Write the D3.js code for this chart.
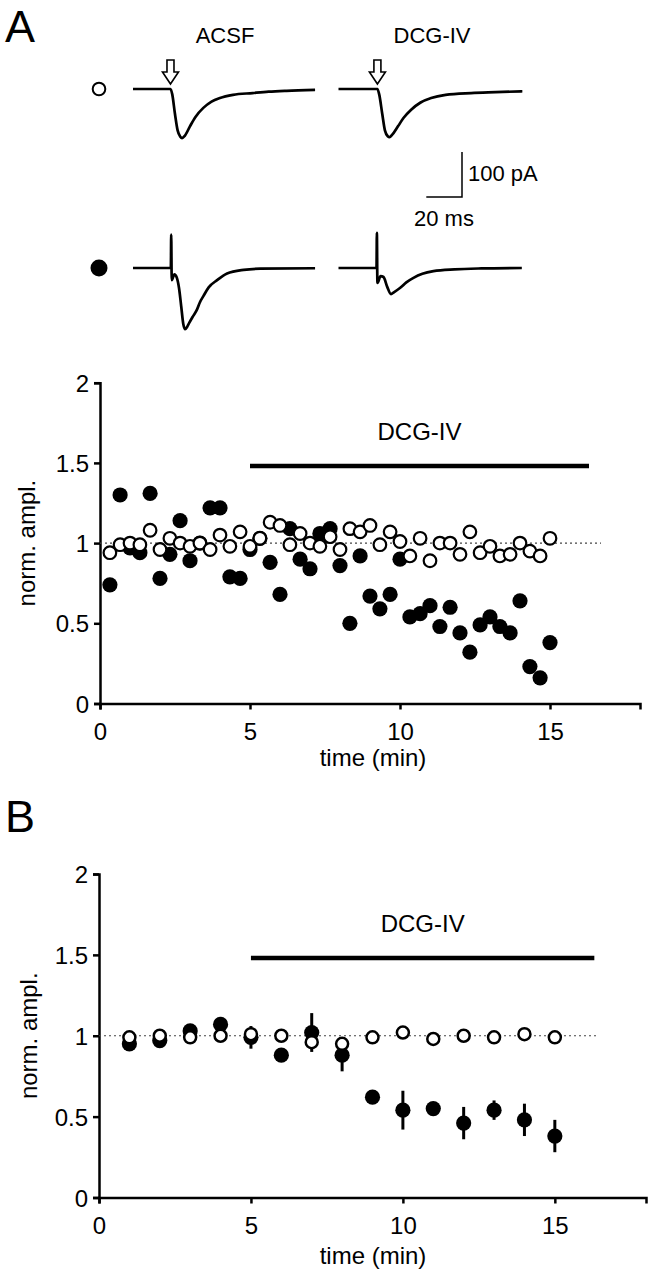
<!DOCTYPE html>
<html><head><meta charset="utf-8">
<script src="https://cdn.jsdelivr.net/npm/d3@7"></script>
<style>
html,body{margin:0;padding:0;background:#fff;}
svg text{font-family:"Liberation Sans",Arial,sans-serif;fill:#000;}
</style></head>
<body>
<svg id="fig" width="653" height="1278"></svg>
<script>
// ---------- Data ----------
// Example traces: [time (ms), current (pA)] (negative = inward, drawn downward)
const traceAcsfOpen = [[0,0],[21,0],[22,-12],[23.5,-55],[25,-92],[26.5,-106],[27.5,-109],[29,-104],[31.9,-83],[35,-62],[39.4,-42],[44,-28],[48.7,-20],[56,-13],[67,-9],[76,-6],[86,-4],[102,-2]];
const traceDcgOpen  = [[0,0],[21.8,0],[22.8,-12],[24.5,-55],[26,-92],[27.6,-105],[28.6,-107],[30,-102],[33.3,-83],[36.5,-64],[40.7,-46],[46,-30],[51.9,-20],[60,-13],[74.3,-9],[88,-7],[103,-5]];
const traceAcsfFilled = [[0,0],[21.2,0],[21.4,74],[21.7,-27],[23.2,-14],[24.4,-20],[25.8,-45],[27,-85],[28.2,-125],[29.2,-136],[30.3,-131],[31.5,-122],[33.5,-108],[35.9,-92],[37.5,-76],[39.5,-62],[42.4,-43],[47.1,-27],[52.7,-12],[62,-4],[71.3,-1.5],[102,-0.5]];
const traceDcgFilled  = [[0,0],[21.3,0],[21.5,78],[21.8,-33],[23.6,-18],[25.2,-20],[27.3,-42],[29.4,-58],[31,-54],[34.6,-44],[38,-32],[42,-22],[47,-13],[53.2,-7],[65,-3],[80,-1],[102.7,0]];
const scaleBarMs = 20, scaleBarPA = 100;

// Panel A: time (min) and normalized amplitude
const timesA = [0.33,0.67,1,1.33,1.67,2,2.33,2.67,3,3.33,3.67,4,4.33,4.67,5,5.33,5.67,6,6.33,6.67,7,7.33,7.67,8,8.33,8.67,9,9.33,9.67,10,10.33,10.67,11,11.33,11.67,12,12.33,12.67,13,13.33,13.67,14,14.33,14.67,15];
const filledA = [0.74,1.30,0.97,0.94,1.31,0.78,0.93,1.14,0.89,1.00,1.22,1.22,0.79,0.78,0.96,1.03,0.88,0.68,1.09,0.90,0.84,1.06,1.09,0.86,0.50,0.92,0.67,0.59,0.68,0.90,0.54,0.56,0.61,0.48,0.60,0.44,0.32,0.49,0.54,0.48,0.44,0.64,0.23,0.16,0.38];
const openA   = [0.94,0.99,1.00,0.99,1.08,0.96,1.03,1.00,0.98,1.00,0.96,1.05,0.98,1.07,0.98,1.03,1.13,1.11,0.99,1.06,1.00,0.98,1.04,0.96,1.09,1.07,1.11,0.99,1.07,1.01,0.92,1.03,0.89,1.00,1.00,0.93,1.07,0.94,0.98,0.92,0.93,1.00,0.95,0.92,1.03];

// Panel B: means and SEM
const timesB = [1,2,3,4,5,6,7,8,9,10,11,12,13,14,15];
const filledB = [0.95,0.97,1.03,1.07,0.99,0.88,1.02,0.88,0.62,0.54,0.55,0.46,0.54,0.48,0.38];
const filledBErr = [0.02,0.02,0.02,0.045,0.07,0.02,0.12,0.10,0.02,0.12,0.03,0.10,0.06,0.10,0.10];
const openB = [0.99,1.00,0.99,1.00,1.01,1.00,0.96,0.95,0.99,1.02,0.98,1.00,0.99,1.01,0.99];

const xTickValues = [0,5,10,15];
const xTickLabels = ["0","5","10","15"];
const yTickValues = [0,0.5,1,1.5,2];
const yTickLabels = ["0","0.5","1","1.5","2"];
const drugLabel = "DCG-IV";
const drugWindow = [5,16.3];
const drugBarLevel = 1.48;
const drugLabelLevel = 1.64;
const xLabel = "time (min)";
const yLabel = "norm. ampl.";

// ---------- Drawing ----------
const svg = d3.select("#fig");
const FONT = 24;

// Panel letters
svg.append("text").attr("x",5).attr("y",42).attr("font-size",45).text("A");
svg.append("text").attr("x",5).attr("y",832).attr("font-size",45).text("B");

// --- traces ---
const tScale = d3.scaleLinear().domain([0,scaleBarMs]).range([0,35.7]);
const aScale = d3.scaleLinear().domain([0,scaleBarPA]).range([0,45]);
function drawTrace(data, x0, y0){
  const line = d3.line().x(d=>x0+tScale(d[0])).y(d=>y0-aScale(d[1])).curve(d3.curveMonotoneX);
  svg.append("path").attr("d",line(data)).attr("fill","none").attr("stroke","#000").attr("stroke-width",2.7).attr("stroke-linejoin","round");
}
const xAcsf = 133, xDcg = 338.5, yOpen = 89, yFilled = 268;
drawTrace(traceAcsfOpen, xAcsf, yOpen);
drawTrace(traceDcgOpen, xDcg, yOpen);
drawTrace(traceAcsfFilled, xAcsf, yFilled);
drawTrace(traceDcgFilled, xDcg, yFilled);

// stimulus arrows
function arrow(cx){
  const p = d3.path();
  p.moveTo(cx-3.5,60); p.lineTo(cx+3.5,60); p.lineTo(cx+3.5,72); p.lineTo(cx+8,72);
  p.lineTo(cx,84); p.lineTo(cx-8,72); p.lineTo(cx-3.5,72); p.closePath();
  svg.append("path").attr("d",p.toString()).attr("fill","#fff").attr("stroke","#000").attr("stroke-width",1.6);
}
arrow(xAcsf+tScale(traceAcsfOpen[1][0]));
arrow(xDcg+tScale(traceDcgOpen[1][0]));

// condition markers
svg.append("circle").attr("cx",99).attr("cy",yOpen).attr("r",6.3).attr("fill","#fff").attr("stroke","#000").attr("stroke-width",2);
svg.append("circle").attr("cx",99).attr("cy",yFilled).attr("r",8.5).attr("fill","#000");

// trace labels
svg.append("text").attr("x",225).attr("y",43).attr("text-anchor","middle").attr("font-size",22).text("ACSF");
svg.append("text").attr("x",432).attr("y",43).attr("text-anchor","middle").attr("font-size",22).text("DCG-IV");

// scale bar
const sbX = 462, sbY = 197;
svg.append("path").attr("d",`M${sbX-tScale(scaleBarMs)},${sbY}H${sbX}V${sbY-aScale(scaleBarPA)}`)
  .attr("fill","none").attr("stroke","#000").attr("stroke-width",1.5);
svg.append("text").attr("x",468).attr("y",181).attr("font-size",22).text(scaleBarPA+" pA");
svg.append("text").attr("x",444).attr("y",226).attr("text-anchor","middle").attr("font-size",22).text(scaleBarMs+" ms");

// --- scatter panels ---
function panel(opts){
  const x = d3.scaleLinear().domain([0,18]).range(opts.xr);
  const y = d3.scaleLinear().domain([0,2]).range(opts.yr);
  const g = svg.append("g");
  const ax = g.append("g").attr("transform",`translate(0,${opts.yr[0]})`)
    .call(d3.axisBottom(x).tickValues(xTickValues).tickFormat((d,i)=>xTickLabels[i]).tickSizeOuter(0).tickSize(6).tickPadding(13));
  const ay = g.append("g").attr("transform",`translate(${opts.xr[0]},0)`)
    .call(d3.axisLeft(y).tickValues(yTickValues).tickFormat((d,i)=>yTickLabels[i]).tickSizeOuter(0).tickSize(6).tickPadding(5));
  [ax,ay].forEach(a=>{
    a.selectAll("path,line").attr("stroke","#000").attr("stroke-width",2.5);
    a.selectAll("text").attr("font-size",FONT).attr("fill","#000").attr("font-family","Liberation Sans, Arial, sans-serif");
  });
  ay.selectAll("text").attr("dy","0.36em");
  // axis labels
  g.append("text").attr("x",373).attr("y",opts.yr[0]+opts.xlabOff).attr("text-anchor","middle").attr("font-size",FONT).text(xLabel);
  g.append("text").attr("transform",`translate(${opts.ylabX},${y(1)}) rotate(-90)`).attr("text-anchor","middle").attr("font-size",FONT).text(yLabel);
  // reference line
  g.append("line").attr("x1",x(0)).attr("x2",x(opts.dotEnd)).attr("y1",y(1)).attr("y2",y(1))
    .attr("stroke","#444").attr("stroke-width",1.2).attr("stroke-dasharray","2,3");
  // drug bar
  g.append("line").attr("x1",x(drugWindow[0])).attr("x2",x(drugWindow[1])).attr("y1",y(drugBarLevel)).attr("y2",y(drugBarLevel))
    .attr("stroke","#000").attr("stroke-width",4.5);
  g.append("text").attr("x",x((drugWindow[0]+drugWindow[1])/2)).attr("y",y(drugLabelLevel)).attr("text-anchor","middle").attr("font-size",FONT).text(drugLabel);
  return {g,x,y};
}

const A = panel({xr:[100,640], yr:[703.5,382.7], xlabOff:62, ylabX:35, dotEnd:16.7});
A.g.append("g").selectAll("circle").data(timesA.map((t,i)=>[t,filledA[i]])).join("circle")
  .attr("cx",d=>A.x(d[0])).attr("cy",d=>A.y(d[1])).attr("r",7.6).attr("fill","#000");
A.g.append("g").selectAll("circle").data(timesA.map((t,i)=>[t,openA[i]])).join("circle")
  .attr("cx",d=>A.x(d[0])).attr("cy",d=>A.y(d[1])).attr("r",6.3).attr("fill","#fff").attr("stroke","#000").attr("stroke-width",2.2);

const B = panel({xr:[99,646], yr:[1197.5,874], xlabOff:66, ylabX:37, dotEnd:16.4});
B.g.append("g").selectAll("line").data(timesB.map((t,i)=>[t,filledB[i],filledBErr[i]])).join("line")
  .attr("x1",d=>B.x(d[0])).attr("x2",d=>B.x(d[0])).attr("y1",d=>B.y(d[1]-d[2])).attr("y2",d=>B.y(d[1]+d[2]))
  .attr("stroke","#000").attr("stroke-width",3);
B.g.append("g").selectAll("circle").data(timesB.map((t,i)=>[t,filledB[i]])).join("circle")
  .attr("cx",d=>B.x(d[0])).attr("cy",d=>B.y(d[1])).attr("r",7.6).attr("fill","#000");
B.g.append("g").selectAll("circle").data(timesB.map((t,i)=>[t,openB[i]])).join("circle")
  .attr("cx",d=>B.x(d[0])).attr("cy",d=>B.y(d[1])).attr("r",6).attr("fill","#fff").attr("stroke","#000").attr("stroke-width",2.5);
</script>
</body></html>
